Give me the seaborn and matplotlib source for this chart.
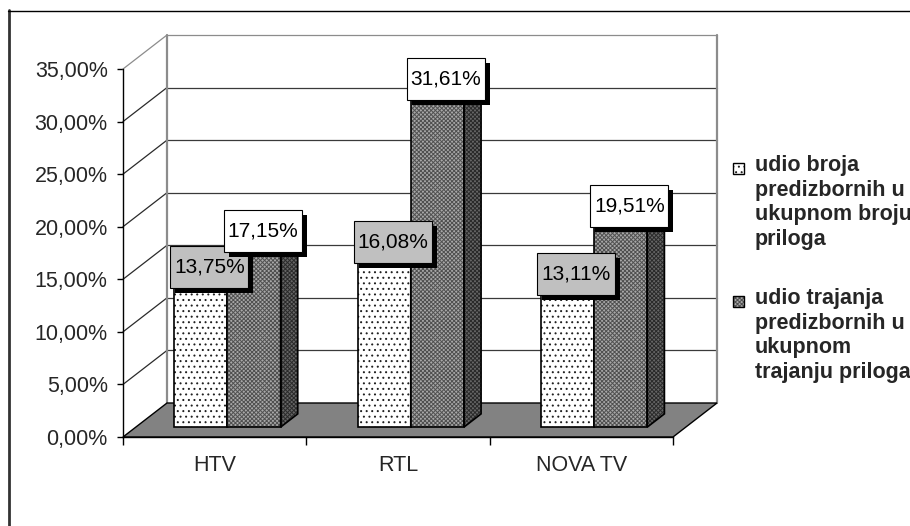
import matplotlib
matplotlib.use("Agg")
import matplotlib.pyplot as plt
import matplotlib.transforms as mtransforms
from matplotlib.patches import Polygon, Rectangle
from matplotlib.lines import Line2D
from matplotlib.ticker import FuncFormatter, FixedLocator
import seaborn as sns
import pandas as pd

# data
stations = ["HTV", "RTL", "NOVA TV"]
udio_broja = [0.1375, 0.1608, 0.1311]
udio_trajanja = [0.1715, 0.3161, 0.1951]
series_labels = ["udio broja\npredizbornih u\nukupnom broju\npriloga",
                 "udio trajanja\npredizbornih u\nukupnom\ntrajanju priloga"]
y_ticks = [0.0, 0.05, 0.10, 0.15, 0.20, 0.25, 0.30, 0.35]

sns.set_style("white")
plt.rcParams["font.family"] = ["Liberation Sans", "DejaVu Sans"]
plt.rcParams["hatch.linewidth"] = 0.7

W, H = 910, 526
fig = plt.figure(figsize=(W / 100, H / 100), dpi=100)
ax = fig.add_axes([123 / W, 89 / H, 550 / W, 368 / H])

df = pd.DataFrame({
    "station": stations * 2,
    "value": udio_broja + udio_trajanja,
    "series": [series_labels[0]] * 3 + [series_labels[1]] * 3,
})
sns.barplot(data=df, x="station", y="value", hue="series", width=0.58,
            dodge=True, palette=["white", "#a0a0a0"], legend=False, ax=ax)
bars = list(ax.patches)

ax.set_xlim(-0.5, 2.5)
ax.set_ylim(0, 0.35)

# pseudo 3d depth (pixels for full depth of the box)
DX, DY = 44, 34
D0, D1 = 0.29, 0.68


def disp(x, y, d):
    px, py = ax.transData.transform((x, y))
    return (px + d * DX, py + d * DY)


ident = mtransforms.IdentityTransform()


def line(p, q, color, lw, z):
    ax.add_line(Line2D([p[0], q[0]], [p[1], q[1]], color=color, lw=lw,
                       transform=ident, clip_on=False, zorder=z))


# floor
floor = Polygon([disp(-0.5, 0, 0), disp(2.5, 0, 0), disp(2.5, 0, 1), disp(-0.5, 0, 1)],
                closed=True, facecolor="#828282", edgecolor="black", lw=1,
                transform=ident, clip_on=False, zorder=1)
ax.add_patch(floor)

# walls and gridlines
for t in y_ticks[1:]:
    c = "#8c8c8c" if t == y_ticks[-1] else "#2a2a2a"
    line(disp(-0.5, t, 0), disp(-0.5, t, 1), c, 0.9, 0.6)
    line(disp(-0.5, t, 1), disp(2.5, t, 1), "#8c8c8c" if t == y_ticks[-1] else "#3a3a3a", 0.9, 0.6)
line(disp(-0.5, 0, 1), disp(-0.5, 0.35, 1), "#8c8c8c", 1.6, 0.6)
line(disp(2.5, 0, 1), disp(2.5, 0.35, 1), "#8c8c8c", 1.6, 0.6)

styles = [
    dict(front="white", fhatch="...", fcol="#202020",
         side="#d8d8d8", shatch="...", scol="#303030", label_bg="#c0c0c0"),
    dict(front="#a8a8a8", fhatch="xxxxxxxx", fcol="#505050",
         side="#666666", shatch="xxxxxxxx", scol="#2a2a2a", label_bg="white"),
]

front_shift = mtransforms.ScaledTranslation(D0 * DX / 100, D0 * DY / 100, fig.dpi_scale_trans)

for i, bar in enumerate(bars):
    s = styles[i // 3]
    z = 2 + (i // 3)
    x0, w, h = bar.get_x(), bar.get_width(), bar.get_height()
    x1 = x0 + w
    # side face and top face
    side = Polygon([disp(x1, 0, D0), disp(x1, h, D0), disp(x1, h, D1), disp(x1, 0, D1)],
                   closed=True, facecolor=s["side"], edgecolor=s["scol"], hatch=s["shatch"],
                   lw=0, transform=ident, clip_on=False, zorder=z)
    top = Polygon([disp(x0, h, D0), disp(x1, h, D0), disp(x1, h, D1), disp(x0, h, D1)],
                  closed=True, facecolor=s["side"], edgecolor=s["scol"], hatch=s["shatch"],
                  lw=0, transform=ident, clip_on=False, zorder=z)
    ax.add_patch(side)
    ax.add_patch(top)
    for p in (side, top):
        ax.add_patch(Polygon(p.get_xy(), closed=True, fill=False, edgecolor="black",
                             lw=1.2, transform=ident, clip_on=False, zorder=z))
    # front face = the seaborn bar moved back into the depth
    bar.set_transform(ax.transData + front_shift)
    bar.set_facecolor(s["front"])
    bar.set_edgecolor(s["fcol"])
    bar.set_hatch(s["fhatch"])
    bar.set_linewidth(0)
    bar.set_clip_on(False)
    bar.set_zorder(z)
    ax.add_patch(Rectangle((x0, 0), w, h, fill=False, edgecolor="black", lw=1.2,
                           transform=ax.transData + front_shift, clip_on=False, zorder=z))

# data labels with drop shadow
for i, bar in enumerate(bars):
    s = styles[i // 3]
    x0, w, h = bar.get_x(), bar.get_width(), bar.get_height()
    axp, ayp = disp(x0 + w / 2, h, (D0 + D1) / 2)
    bw, bh = 78, 42
    bx, by = axp - bw / 2, ayp + 9 - bh / 2
    ax.add_patch(Rectangle((bx + 5, by - 5), bw, bh, facecolor="black", lw=0,
                           transform=ident, clip_on=False, zorder=6 + i // 3))
    ax.add_patch(Rectangle((bx, by), bw, bh, facecolor=s["label_bg"], edgecolor="black",
                           lw=0.8, transform=ident, clip_on=False, zorder=6 + i // 3))
    txt = f"{h * 100:.2f}%".replace(".", ",")
    ax.text(axp, ayp + 9, txt, transform=ident, ha="center", va="center",
            fontsize=15, color="black", zorder=7 + i // 3, clip_on=False)

# axes, ticks
for sp in ["top", "right"]:
    ax.spines[sp].set_visible(False)
for sp in ["left", "bottom"]:
    ax.spines[sp].set_color("black")
    ax.spines[sp].set_linewidth(1)
    ax.spines[sp].set_zorder(8)
ax.set_yticks(y_ticks)
ax.yaxis.set_major_formatter(FuncFormatter(lambda v, p: f"{v * 100:.2f}%".replace(".", ",")))
ax.tick_params(axis="y", direction="out", length=4, width=1, color="black",
               labelsize=15.5, pad=7, left=True)
ax.set_xticks(range(len(stations)))
ax.set_xticklabels(stations)
ax.xaxis.set_minor_locator(FixedLocator([-0.5, 0.5, 1.5, 2.5]))
ax.tick_params(axis="x", which="major", length=0, labelsize=15.5, pad=13)
ax.tick_params(axis="x", which="minor", direction="out", length=6, width=1,
               color="black", bottom=True)
ax.set_xlabel("")
ax.set_ylabel("")
ax.set_facecolor("white")

# legend drawn by hand, first line of each entry next to its key
legend_top = [155, 288]
for k, lab in enumerate(series_labels):
    s = styles[k]
    fig.text(755 / W, 1 - legend_top[k] / H, lab, ha="left", va="top",
             fontsize=15.5, fontweight="bold", linespacing=1.22)
    key = Rectangle((733, H - legend_top[k] - 19), 11, 11, facecolor=s["front"],
                    edgecolor=s["fcol"], hatch=s["fhatch"], lw=0, transform=ident)
    fig.add_artist(key)
    fig.add_artist(Rectangle((733, H - legend_top[k] - 19), 11, 11, fill=False,
                             edgecolor="black", lw=1, transform=ident))

# chart area border (left and top edges only visible)
fig.add_artist(Line2D([8.5, 8.5], [0, H - 10], color="#333333", lw=2, transform=ident))
fig.add_artist(Line2D([8, W], [H - 10.5, H - 10.5], color="black", lw=1, transform=ident))

fig.savefig("out.png", dpi=100)
